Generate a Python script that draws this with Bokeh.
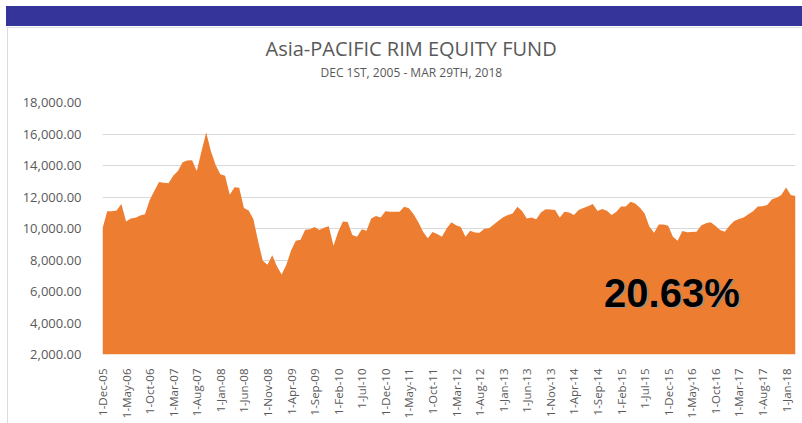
import math
from bokeh.plotting import figure
from bokeh.layouts import column
from bokeh.models import FixedTicker, NumeralTickFormatter, Label, Title, Div
from bokeh.embed import file_html
from bokeh.resources import INLINE

# ---------------- data ----------------
tick_labels = ["1-Dec-05", "1-May-06", "1-Oct-06", "1-Mar-07", "1-Aug-07", "1-Jan-08",
               "1-Jun-08", "1-Nov-08", "1-Apr-09", "1-Sep-09", "1-Feb-10", "1-Jul-10",
               "1-Dec-10", "1-May-11", "1-Oct-11", "1-Mar-12", "1-Aug-12", "1-Jan-13",
               "1-Jun-13", "1-Nov-13", "1-Apr-14", "1-Sep-14", "1-Feb-15", "1-Jul-15",
               "1-Dec-15", "1-May-16", "1-Oct-16", "1-Mar-17", "1-Aug-17", "1-Jan-18"]

# monthly values, Dec-2005 .. Mar-2018
fund_values = [
    10000, 11100, 11100, 11150, 11550, 10450, 10640, 10690, 10830, 10900,
    11800, 12400, 12950, 12900, 12870, 13350, 13650, 14200, 14320, 14330,
    13650, 14900, 16100, 14900, 14030, 13450, 13350, 12150, 12620, 12580,
    11300, 11150, 10600, 9200, 7950, 7700, 8300, 7600, 7080, 7700,
    8600, 9230, 9280, 9920, 9950, 10100, 9900, 10050, 10150, 8900,
    9800, 10450, 10420, 9580, 9480, 9950, 9860, 10640, 10800, 10700,
    11100, 11070, 11060, 11070, 11380, 11280, 10900, 10400, 9800, 9380,
    9780, 9650, 9480, 10000, 10390, 10200, 10100, 9480, 9860, 9750,
    9730, 9980, 10010, 10250, 10500, 10720, 10850, 10950, 11380, 11110,
    10640, 10700, 10580, 11020, 11220, 11200, 11170, 10700, 11070, 11020,
    10860, 11180, 11300, 11420, 11560, 11110, 11240, 11130, 10860, 11070,
    11390, 11390, 11700, 11590, 11320, 10960, 10120, 9730, 10260, 10250,
    10180, 9480, 9230, 9840, 9760, 9780, 9800, 10190, 10330, 10390,
    10180, 9900, 9800, 10180, 10480, 10600, 10700, 10900, 11100, 11390,
    11420, 11500, 11850, 11950, 12130, 12610, 12130, 12060,
]
y_ticks = [2000, 4000, 6000, 8000, 10000, 12000, 14000, 16000, 18000]
title_text = "Asia-PACIFIC RIM EQUITY FUND"
subtitle_text = "DEC 1ST, 2005 - MAR 29TH, 2018"
return_text = "20.63%"

month_idx = list(range(len(fund_values)))
tick_pos = list(range(0, len(fund_values), 5))[:len(tick_labels)]

# ---------------- header bar ----------------
bar = Div(text="", width=796, height=20,
          styles={"background-color": "#35349A", "margin-left": "6px", "margin-top": "6px"})

# ---------------- main figure ----------------
p = figure(width=794, height=396, output_backend="svg", toolbar_location=None,
           x_range=(0, len(fund_values) - 1), y_range=(2000, 18000),
           min_border_left=94, min_border_right=7, min_border_top=74,
           min_border_bottom=70)
p.styles = {"margin-left": "7px", "margin-top": "-4px",
            "border-left": "1px solid #dcdcdc", "border-top": "1px solid #dcdcdc"}
p.outline_line_color = None
p.background_fill_color = "white"
p.border_fill_color = "white"

p.title = Title(text=title_text, align="left", offset=163, standoff=0,
                text_font="Open Sans", text_font_size="20px",
                text_font_style="normal", text_color="#595959")
# blank spacer between the subtitle and the plot area
p.add_layout(Title(text=" ", align="left", standoff=0, text_font="Open Sans",
                   text_font_size="15px", text_color="white"), "above")
p.add_layout(Title(text=subtitle_text, align="left", offset=218, standoff=0,
                   text_font="Open Sans", text_font_size="12px",
                   text_font_style="normal", text_color="#595959"), "above")

p.varea(x=month_idx, y1=2000, y2=fund_values, fill_color="#ED7D31")

# axes
p.xaxis.ticker = FixedTicker(ticks=tick_pos)
p.xaxis.major_label_overrides = {pos: lab for pos, lab in zip(tick_pos, tick_labels)}
p.xaxis.major_label_orientation = math.pi / 2
p.yaxis.ticker = FixedTicker(ticks=y_ticks)
p.yaxis.formatter = NumeralTickFormatter(format="0,0.00")
for ax in (p.xaxis, p.yaxis):
    ax.axis_line_color = None
    ax.major_tick_line_color = None
    ax.minor_tick_line_color = None
    ax.major_label_text_font = "Open Sans"
    ax.major_label_text_color = "#595959"
p.xaxis.major_label_text_font_size = "11.5px"
p.xaxis.major_label_standoff = 8
p.yaxis.major_label_text_font_size = "13px"
p.yaxis.major_label_standoff = 15

p.xgrid.grid_line_color = None
p.ygrid.grid_line_color = "#d9d9d9"
p.ygrid.grid_line_width = 1

# big return label with soft shadow
p.add_layout(Label(x=106.4, y=4520, text=return_text, x_offset=1.5, y_offset=-1.5,
                   text_font="Liberation Sans", text_font_style="bold",
                   text_font_size="40px", text_color="#9a9a9a", text_alpha=0.8))
p.add_layout(Label(x=106.4, y=4520, text=return_text,
                   text_font="Liberation Sans", text_font_style="bold",
                   text_font_size="40px", text_color="black"))

layout = column(bar, p, spacing=0)
open("out.html", "w").write(file_html(layout, INLINE))
